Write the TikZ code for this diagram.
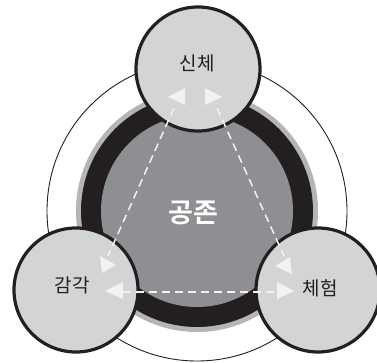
\documentclass[tikz,border=0pt]{standalone}
\usepackage{fontspec}
\newfontfamily\kr{Noto Sans CJK KR}
\newfontfamily\krb{Noto Sans CJK KR Bold}
\definecolor{ringblack}{HTML}{231F20}
\definecolor{ringlight}{HTML}{B4B5B7}
\definecolor{coregray}{HTML}{8E8F92}
\definecolor{smallfill}{HTML}{D3D4D6}
\definecolor{dashwhite}{HTML}{F2F2F2}
\tikzset{
  smallc/.style={circle, draw=ringblack, line width=3.2pt, fill=smallfill, minimum size=124pt, inner sep=0pt},
  lbl/.style={font=\kr\fontsize{19}{19}\selectfont, text=ringblack, inner sep=0pt},
  dline/.style={draw=dashwhite, line width=1.5pt, dash pattern=on 8pt off 5pt},
  tri/.style={fill=dashwhite, draw=none}
}
\begin{document}
\begin{tikzpicture}[x=1pt,y=-1pt]
\useasboundingbox (0,0) rectangle (377,363);
% rings
\coordinate (c) at (197,211);
\draw[ringblack, line width=0.9pt, fill=white] (c) circle (150);
\fill[ringlight] (c) circle (121);
\fill[ringblack] (c) circle (116);
\fill[coregray] (c) circle (96);
\node[font=\krb\fontsize{27}{27}\selectfont, text=white, inner sep=0pt] (core) at (193,213) {공존};
% small circles
\node[smallc] (top) at (198,69) {};
\node[smallc] (left) at (76,290) {};
\node[smallc] (right) at (318,290) {};
\node[lbl] (ttop) at (197,63) {신체};
\node[lbl] (tleft) at (72,285) {감각};
\node[lbl] (tright) at (320,288) {체험};
% dashed connectors
\coordinate (tl) at (174,108);
\coordinate (lt) at (108,256);
\coordinate (tr) at (217,108);
\coordinate (rt) at (284,256);
\coordinate (lr) at (123,292);
\coordinate (rl) at (277,292);
\draw[dline] (tl) -- (lt);
\draw[dline] (tr) -- (rt);
\draw[dline] (lr) -- (rl);
% arrowheads
\fill[tri] (168,97) -- (185,88) -- (185,105) -- cycle;
\fill[tri] (222,97) -- (205,88) -- (205,105) -- cycle;
\fill[tri] (116,265) -- (100,256) -- (102,273) -- cycle;
\fill[tri] (105,291) -- (123,282) -- (123,299) -- cycle;
\fill[tri] (275,266) -- (290,257) -- (292,274) -- cycle;
\fill[tri] (294,291) -- (277,282) -- (277,299) -- cycle;
\end{tikzpicture}
\end{document}
